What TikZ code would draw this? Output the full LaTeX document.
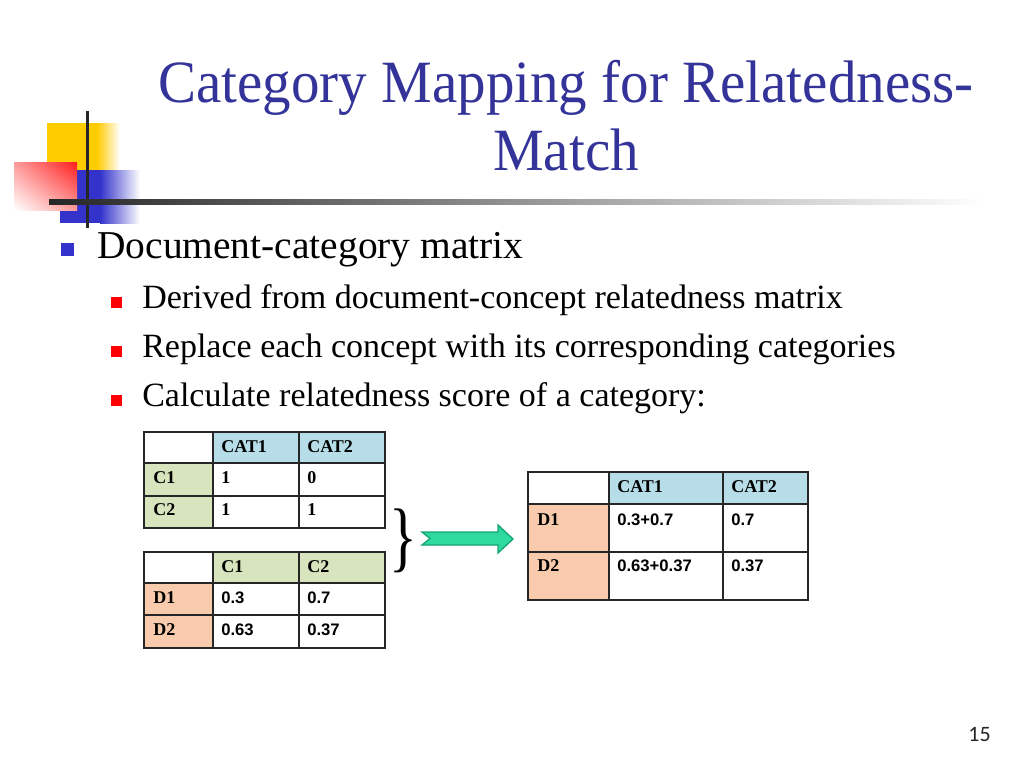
\documentclass[tikz,border=0pt]{standalone}
\usepackage{fontspec}
\setmainfont{Liberation Serif}
\newfontfamily\titlefont[FakeStretch=0.95]{Liberation Serif}
\newfontfamily\tabsans{Liberation Sans}
\newfontfamily\pagefont{Carlito}
\usepackage{tikz}
\usetikzlibrary{shadings}
\usepackage{xcolor}
\definecolor{titleblue}{RGB}{51,51,153}
\definecolor{bulletblue}{RGB}{51,51,204}
\definecolor{logoyellow}{RGB}{255,204,0}
\definecolor{logored}{RGB}{255,30,30}
\definecolor{logoblue}{RGB}{51,51,204}
\definecolor{catblue}{RGB}{183,222,232}
\definecolor{cgreen}{RGB}{215,228,189}
\definecolor{dpeach}{RGB}{248,203,173}
\definecolor{arrowlight}{RGB}{48,220,160}
\definecolor{arrowdark}{RGB}{22,165,118}

\begin{document}
\begin{tikzpicture}[x=0.75pt,y=-0.75pt,
    grid/.style={line width=1.5pt,black!85},
    hd/.style={anchor=base west,inner sep=0pt,font=\fontsize{13.5}{15}\selectfont\bfseries},
    val/.style={anchor=base west,inner sep=0pt,font=\tabsans\fontsize{12.5}{14}\selectfont\bfseries},
    mainbullet/.style={rectangle,fill=bulletblue,inner sep=0pt,minimum size=9.75pt},
    subbullet/.style={rectangle,fill=red,inner sep=0pt,minimum size=8.25pt},
    item/.style={anchor=base west,inner sep=0pt}]
  \useasboundingbox[fill=white] (0,0) rectangle (1024,768);

  % logo
  \fill[logoyellow] (47,123) rectangle (97,170);
  \shade[left color=logoyellow,right color=white] (97,123) rectangle (120,170);
  \fill[logoblue] (60,170) rectangle (100,223);
  \shade[left color=logoblue,right color=white] (100,170) rectangle (140,223);
  \shade[upper right=logored,lower right=logored!45!white,
         upper left=logored!45!white,lower left=white] (14,162) rectangle (77,210);
  \draw[line width=2.25pt,black!85] (87,111) -- (87,228);
  \shade[left color=black!85,right color=white] (49,199) rectangle (985,204);

  % title
  \node[anchor=base,align=center,text=titleblue,inner sep=0pt,
        font=\titlefont\fontsize{45}{51}\selectfont] (title) at (566,170)
        {Category Mapping for Relatedness-\\Match};

  % bullets
  \node[mainbullet] (b0) at (67.5,249.5) {};
  \node[item,font=\fontsize{29.6}{35}\selectfont] (doc) at (97,258) {Document-category matrix};
  \node[subbullet] (b1) at (116.5,302) {};
  \node[item,font=\fontsize{25.5}{30}\selectfont] (derived) at (142,308) {Derived from document-concept relatedness matrix};
  \node[subbullet] (b2) at (116.5,351.5) {};
  \node[item,font=\fontsize{25.5}{30}\selectfont] (replace) at (142,357) {Replace each concept with its corresponding categories};
  \node[subbullet] (b3) at (116.5,400.5) {};
  \node[item,font=\fontsize{25.5}{30}\selectfont] (calc) at (142,406) {Calculate relatedness score of a category:};

  % concept-category table
  \fill[catblue] (213,432) rectangle (385,463);
  \fill[cgreen] (144,463) rectangle (213,528);
  \draw[grid] (144,432) rectangle (385,528);
  \foreach \y in {463,496} \draw[grid] (144,\y) -- (385,\y);
  \foreach \x in {213,299} \draw[grid] (\x,432) -- (\x,528);
  \node[hd] (ta-cat1) at (221,452) {CAT1};
  \node[hd] (ta-cat2) at (307,452) {CAT2};
  \node[hd] (ta-c1) at (153,483) {C1};
  \node[hd] (ta-c2) at (153,515) {C2};
  \node[hd] (ta-11) at (221,483) {1};
  \node[hd] (ta-12) at (307,483) {0};
  \node[hd] (ta-21) at (221,515) {1};
  \node[hd] (ta-22) at (307,515) {1};

  % document-concept table
  \fill[cgreen] (213,552) rectangle (385,583);
  \fill[dpeach] (144,583) rectangle (213,648);
  \draw[grid] (144,552) rectangle (385,648);
  \foreach \y in {583,615} \draw[grid] (144,\y) -- (385,\y);
  \foreach \x in {213,299} \draw[grid] (\x,552) -- (\x,648);
  \node[hd] (tb-c1) at (221,572) {C1};
  \node[hd] (tb-c2) at (307,572) {C2};
  \node[hd] (tb-d1) at (153,603) {D1};
  \node[hd] (tb-d2) at (153,635) {D2};
  \node[val] (tb-11) at (221,603) {0.3};
  \node[val] (tb-12) at (307,603) {0.7};
  \node[val] (tb-21) at (221,635) {0.63};
  \node[val] (tb-22) at (307,635) {0.37};

  % brace and arrow
  \node[inner sep=0pt,xscale=0.75,font=\fontsize{58}{58}\selectfont] (brace) at (403,541) {\}};
  \shade[top color=arrowlight!85!arrowdark,bottom color=arrowlight!85!arrowdark,middle color=arrowlight,
         draw=arrowdark,line width=1pt]
    (422,532) -- (498,532) -- (498,525) -- (513,539) -- (498,553) -- (498,545)
    -- (422,545) -- (430,538.5) -- cycle;

  % document-category table
  \fill[catblue] (609,472) rectangle (808,504);
  \fill[dpeach] (528,504) rectangle (609,600);
  \draw[grid] (528,472) rectangle (808,600);
  \foreach \y in {504,552} \draw[grid] (528,\y) -- (808,\y);
  \foreach \x in {609,723} \draw[grid] (\x,472) -- (\x,600);
  \node[hd] (tc-cat1) at (617,492) {CAT1};
  \node[hd] (tc-cat2) at (731,492) {CAT2};
  \node[hd] (tc-d1) at (537,525) {D1};
  \node[hd] (tc-d2) at (537,571) {D2};
  \node[val] (tc-11) at (617,525) {0.3+0.7};
  \node[val] (tc-12) at (731,525) {0.7};
  \node[val] (tc-21) at (617,571) {0.63+0.37};
  \node[val] (tc-22) at (731,571) {0.37};

  % page number
  \node[anchor=base east,inner sep=0pt,text=black!85,font=\pagefont\fontsize{16.5}{18}\selectfont] (page) at (991,741) {15};
\end{tikzpicture}
\end{document}
